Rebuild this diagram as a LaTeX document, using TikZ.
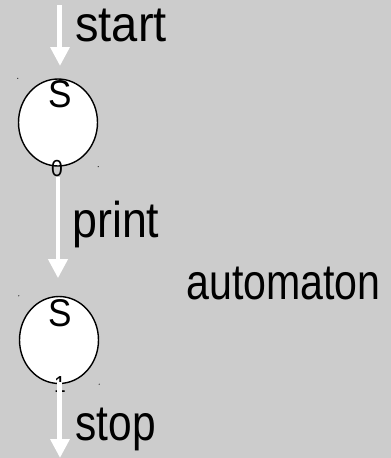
\documentclass[tikz,border=0pt]{standalone}
\usepackage{fontspec}
\setmainfont{Liberation Sans}
\usetikzlibrary{arrows.meta,shapes.geometric}

\tikzset{
  state/.style={ellipse, draw=black, thick, fill=white, inner sep=0pt,
    minimum width=1.58cm, minimum height=1.74cm},
  flow/.style={draw=white, line width=0.1cm, -{Triangle[width=0.37cm,length=0.38cm]}},
  lbl/.style={anchor=base west, inner sep=0pt, font=\fontsize{26}{28}\selectfont},
  sym/.style={anchor=base, inner sep=0pt, font=\fontsize{20}{22}\selectfont},
  idx/.style={anchor=base, inner sep=0pt, font=\fontsize{12}{14}\selectfont},
}
% text is drawn a little taller than it is wide
\newcommand{\tall}[2][1]{\scalebox{#1}[1.1]{#2}}

\begin{document}
\begin{tikzpicture}[x=0.02cm, y=-0.02cm]
  \fill [black!20] (0,0) rectangle (391,458);
  \useasboundingbox (0,0) rectangle (391,458);

  % the two states
  \node [state] (s0) at (58,122.5) {};
  \node [state] (s1) at (59,340) {};
  \node [sym] (s0name) at (60,107) {\tall{S}};
  \node [sym] (s1name) at (60,326) {\tall{S}};
  \node [idx] (s0idx) at (57,176) {\tall{0}};
  \node [idx] (s1idx) at (60,392) {\tall{1}};

  % corner marks
  \fill (s0.west |- s0.north) circle (0.6);
  \fill (s0.east |- s0.south) circle (0.6);
  \fill (s1.west |- s1.north) circle (0.6);
  \fill (s1.east |- s1.south) circle (0.6);

  % transitions
  \coordinate (in) at (60,5);
  \coordinate (out) at (60,458);
  \draw [flow, shorten >=7] (in) -- (s0.north -| in);
  \draw [flow, shorten <=6, shorten >=10] (s0.south) -- (s1.north -| s0.south);
  \draw [flow, shorten <=-1] (s1.south -| out) -- (out);

  % labels
  \node [lbl] (start) at (75,41) {\tall[1.03]{start}};
  \node [lbl] (print) at (72,237) {\tall[0.98]{print}};
  \node [lbl] (automaton) at (186,299) {\tall[0.9]{automaton}};
  \node [lbl] (stop) at (75,440) {\tall[0.93]{stop}};
\end{tikzpicture}
\end{document}
